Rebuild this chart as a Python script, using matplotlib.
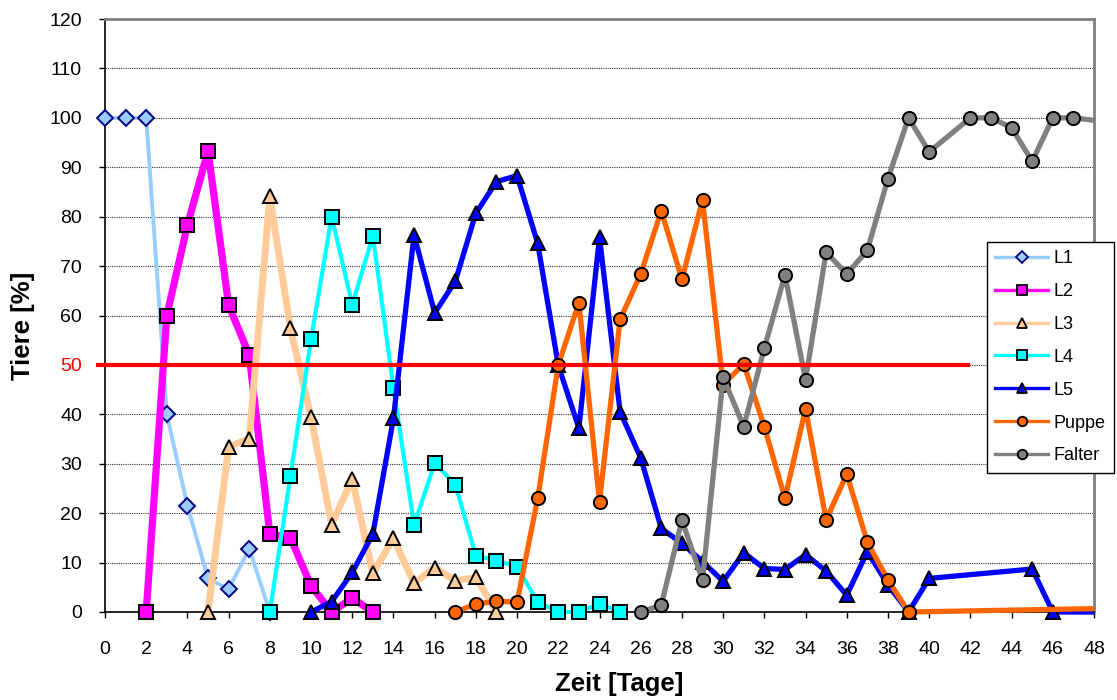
import matplotlib
matplotlib.use("Agg")
import matplotlib.pyplot as plt
from matplotlib.lines import Line2D
from matplotlib.patches import Rectangle

plt.rcParams['font.family'] = ['Liberation Sans', 'DejaVu Sans']

# Entwicklungsstadien in Prozent der Tiere pro Tag
l1_x = [0, 1, 2, 3, 4, 5, 6, 7, 8]
l1_y = [100, 100, 100, 40, 21.5, 6.8, 4.6, 12.8, 0]

l2_x = [2, 3, 4, 5, 6, 7, 8, 9, 10, 11, 12, 13]
l2_y = [0, 60, 78.3, 93.3, 62.1, 52, 15.8, 15, 5.3, 0, 2.8, 0]

l3_x = [5, 6, 7, 8, 9, 10, 11, 12, 13, 14, 15, 16, 17, 18, 19]
l3_y = [0, 33.4, 35.1, 84.1, 57.4, 39.4, 17.7, 26.9, 7.8, 14.9, 5.8, 9.0, 6.3, 7.0, 0]

l4_x = [8, 9, 10, 11, 12, 13, 14, 15, 16, 17, 18, 19, 20, 21, 22, 23, 24, 25]
l4_y = [0, 27.5, 55.2, 80, 62.2, 76.1, 45.4, 17.6, 30.1, 25.8, 11.4, 10.4,
        9.2, 2.0, 0, 0, 1.7, 0]

l5_x = [10, 11, 12, 13, 14, 15, 16, 17, 18, 19, 20, 21, 22, 23, 24, 25, 26,
        27, 28, 29, 30, 31, 32, 33, 34, 35, 36, 37, 38, 39, 40, 45, 46, 49]
l5_y = [0, 2.1, 8.0, 15.8, 39.2, 76.3, 60.5, 66.9, 80.7, 87.1, 88.3, 74.6,
        49.9, 37.2, 75.8, 40.5, 31.2, 16.9, 13.9, 10.2, 6.2, 12.0, 8.8, 8.6,
        11.6, 8.3, 3.4, 12.2, 5.5, 0, 6.8, 8.7, 0, 0]

puppe_x = [17, 18, 19, 20, 21, 22, 23, 24, 25, 26, 27, 28, 29, 30, 31, 32,
           33, 34, 35, 36, 37, 38, 39, 49]
puppe_y = [0, 1.6, 2.2, 2.0, 23.0, 50, 62.6, 22.3, 59.2, 68.4, 81.2, 67.3,
           83.4, 46.0, 50.2, 37.5, 23.0, 41.1, 18.6, 27.9, 14.1, 6.5, 0, 0.75]

falter_x = [26, 27, 28, 29, 30, 31, 32, 33, 34, 35, 36, 37, 38, 39, 40, 42,
            43, 44, 45, 46, 47, 49]
falter_y = [0, 1.4, 18.6, 6.4, 47.5, 37.5, 53.4, 68.2, 47.0, 72.8, 68.4, 73.2,
            87.7, 100, 93.1, 100, 100, 98.0, 91.2, 100, 100, 99]

schwelle = 50
schwelle_x = [-0.45, 42]

series = [
    ("L1", l1_x, l1_y, "#99CCFF", "#000080", "D", 8.0, 2.8),
    ("L2", l2_x, l2_y, "#FF00FF", "black", "s", 10.0, 5.2),
    ("L3", l3_x, l3_y, "#FFCC99", "black", "^", 10.0, 5.0),
    ("L4", l4_x, l4_y, "#00FFFF", "black", "s", 9.5, 3.0),
    ("L5", l5_x, l5_y, "#0000FF", "black", "^", 10.0, 3.8),
    ("Puppe", puppe_x, puppe_y, "#FF6600", "black", "o", 9.5, 3.8),
    ("Falter", falter_x, falter_y, "#808080", "black", "o", 9.5, 3.8),
]

fig = plt.figure(figsize=(11.17, 7.0), dpi=100)
ax = fig.add_axes([105 / 1117, 88 / 700, 989 / 1117, 593 / 700])

# markers may overhang the bottom/left axis, but data stops at day 48
clip = Rectangle((-0.05, -0.1), 1.05, 1.2, transform=ax.transAxes,
                 facecolor="none", edgecolor="none")
ax.add_patch(clip)

handles = []
for i, (name, xs, ys, col, edge, mk, ms, lw) in enumerate(series):
    line, = ax.plot(xs, ys, color=col, lw=lw, marker=mk, ms=ms,
                    markerfacecolor=col, markeredgecolor=edge,
                    markeredgewidth=1.4, zorder=3 + i,
                    solid_joinstyle="round")
    line.set_clip_path(clip)
    handles.append(Line2D([], [], color=col, lw=2.4, marker=mk,
                          ms=ms * 0.72, markerfacecolor=col,
                          markeredgecolor=edge, markeredgewidth=1.3))

ax.plot(schwelle_x, [schwelle, schwelle], color="#FF0000", lw=3.0,
        zorder=20, clip_on=False, solid_capstyle="butt")

ax.set_xlim(0, 48)
ax.set_ylim(0, 120)
ax.set_xticks(range(0, 49, 2))
ax.set_yticks(range(0, 121, 10))
ax.tick_params(axis="x", direction="out", length=4, width=1, pad=17,
               labelsize=14, colors="black")
ax.tick_params(axis="y", direction="out", length=4.5, width=1, pad=12,
               labelsize=14)
for lab in ax.get_yticklabels():
    if lab.get_text() == "50":
        lab.set_color("#FF0000")

ax.yaxis.grid(True, linestyle=(0, (1, 1)), color="#333333", lw=0.8)
ax.set_axisbelow(True)

ax.spines["left"].set_color("black")
ax.spines["bottom"].set_color("black")
ax.spines["left"].set_linewidth(1.2)
ax.spines["bottom"].set_linewidth(1.2)
for side in ("top", "right"):
    ax.spines[side].set_color("#808080")
    ax.spines[side].set_linewidth(2.0)

fig.text(23 / 1117, 1 - 326 / 700, "Tiere [%]", rotation=90, ha="center",
         va="center", fontsize=18.5, fontweight="bold")
fig.text(619 / 1117, 1 - 684 / 700, "Zeit [Tage]", ha="center",
         va="center", fontsize=18.5, fontweight="bold")

leg = ax.legend(handles, [s[0] for s in series], loc="upper left",
                bbox_to_anchor=(987 / 1117, 1 - 242 / 700),
                bbox_transform=fig.transFigure, fontsize=13,
                frameon=True, fancybox=False, edgecolor="black",
                framealpha=1, borderpad=0.45, labelspacing=0.88,
                handlelength=2.95, handletextpad=0.28, borderaxespad=0)
leg.get_frame().set_linewidth(1.0)
leg.set_zorder(30)

fig.savefig("out.png", dpi=100)
